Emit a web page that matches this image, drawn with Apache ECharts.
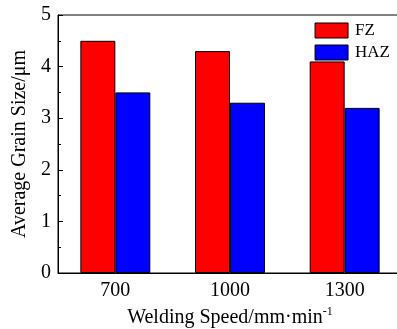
<!DOCTYPE html>
<html><head><meta charset="utf-8">
<script src="https://cdn.jsdelivr.net/npm/echarts@6/dist/echarts.min.js"></script>
<style>html,body{margin:0;padding:0;background:#fff}#c{width:397px;height:329px}</style>
</head><body><div id="c"></div>
<script>
const categories = ['700', '1000', '1300'];
const fzValues = [4.5, 4.3, 4.1];
const hazValues = [3.5, 3.3, 3.2];
const yTicks = [0, 1, 2, 3, 4, 5];

const font = '"Liberation Serif", "Times New Roman", serif';
const chart = echarts.init(document.getElementById('c'), null, {renderer: 'canvas'});
chart.setOption({
  animation: false,
  textStyle: {fontFamily: font},
  grid: {left: 58, top: 15, right: -5, bottom: 56, show: true, borderColor: '#000', borderWidth: 1,
         containLabel: false, outerBoundsMode: 'none'},
  legend: {
    right: 2, top: 17, orient: 'vertical', itemWidth: 33, itemHeight: 15, itemGap: 5,
    textStyle: {fontFamily: font, fontSize: 17, color: '#000', padding: [0,0,0,2]},
    icon: 'rect', itemStyle: {borderColor: '#000', borderWidth: 1},
    data: ['FZ', 'HAZ']
  },
  xAxis: {
    type: 'category', data: categories,
    axisLine: {lineStyle: {color: '#000', width: 1}},
    axisTick: {show: false},
    axisLabel: {fontFamily: font, fontSize: 20, color: '#000', margin: 8},
    name: 'Welding Speed/mm·min{sup|-1}', nameLocation: 'middle', nameGap: 33,
    nameTextStyle: {fontFamily: font, fontSize: 20, color: '#000',
      rich: {sup: {fontFamily: font, fontSize: 12, color: '#000', verticalAlign: 'top', padding: [0,0,12,0]}}}
  },
  yAxis: {
    type: 'value', min: yTicks[0], max: yTicks[yTicks.length-1], interval: 1,
    axisLine: {show: true, lineStyle: {color: '#000', width: 1}},
    axisTick: {show: true, inside: true, length: 5, lineStyle: {color: '#000'}},
    minorTick: {show: true, splitNumber: 2, length: 3, lineStyle: {color: '#000'}},
    splitLine: {show: false},
    axisLabel: {fontFamily: font, fontSize: 20, color: '#000', margin: 7},
    name: 'Average Grain Size/μm', nameLocation: 'middle', nameGap: 24,
    nameTextStyle: {fontFamily: font, fontSize: 20, color: '#000'}
  },
  series: [
    {name: 'FZ', type: 'bar', data: fzValues, barGap: '0%', barCategoryGap: '39%',
     itemStyle: {color: '#ff0000', borderColor: '#000', borderWidth: 1}},
    {name: 'HAZ', type: 'bar', data: hazValues, barGap: '0%', barCategoryGap: '39%',
     itemStyle: {color: '#0000ff', borderColor: '#000', borderWidth: 1}}
  ]
});
</script></body></html>
